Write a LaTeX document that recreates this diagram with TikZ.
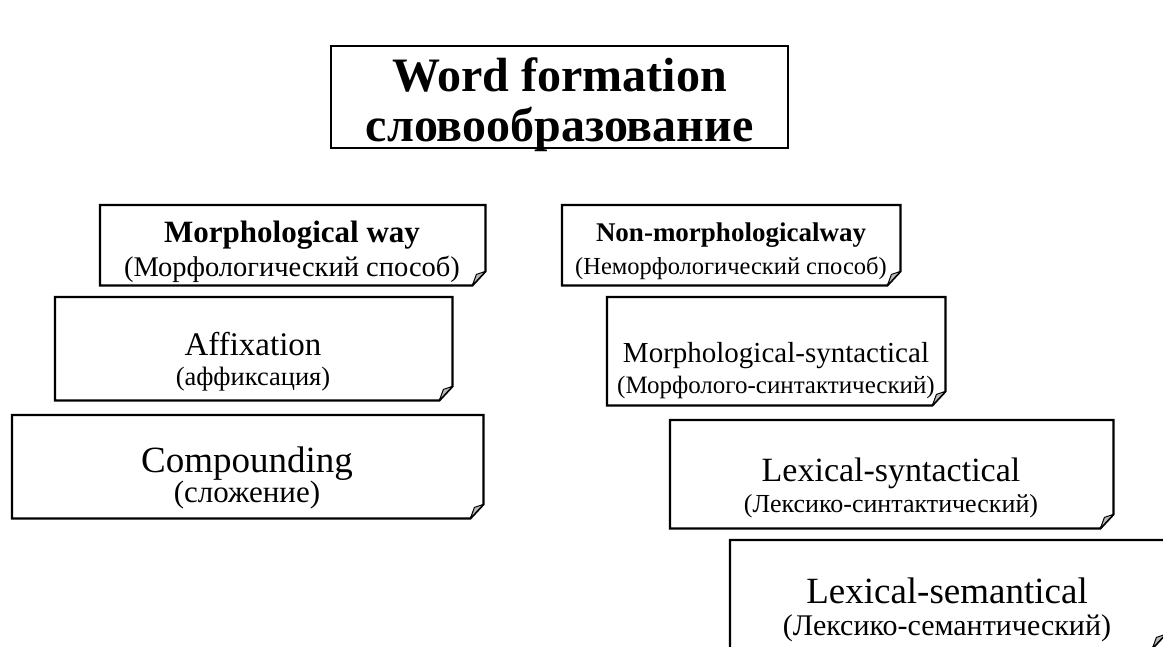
\documentclass[tikz,border=0pt]{standalone}
\usepackage{fontspec}
\setmainfont{Liberation Serif}
\newcommand\foldbox[1]{%
  \draw[boxline] (#1.north west) -- (#1.north east) -- ([yshift=14pt]#1.south east)
    -- ([xshift=-13pt]#1.south east) -- (#1.south west) -- cycle;
  \filldraw[fill=gray!55,draw=black,line width=1pt,line join=round]
    ([yshift=14pt]#1.south east) -- ([xshift=-13pt]#1.south east)
    -- ([xshift=-9pt,yshift=11pt]#1.south east) -- cycle;}
\newcommand\fs[1]{\fontsize{#1}{#1}\selectfont}
\begin{document}
\begin{tikzpicture}[x=1pt,y=-1pt,
  boxline/.style={line width=2.2pt,line join=miter},
  box/.style={rectangle,inner sep=0pt,anchor=north west},
  ln/.style={inner sep=0pt,anchor=base}]
\useasboundingbox (0,0) rectangle (1163,646);
\clip (0,0) rectangle (1163,646);
% top box
\node[box,draw,line width=2.2pt,minimum width=457pt,minimum height=102pt] (top) at (330,45) {};
\node[align=center,inner sep=0pt,font=\fontsize{48}{50}\selectfont\bfseries] (topt) at ([yshift=-8pt]top.center) {Word formation\\словообразование};
% boxes
\node[box,minimum width=385pt,minimum height=80pt] (morph) at (100,205) {};
\node[box,minimum width=338pt,minimum height=80pt] (nonmorph) at (562,205) {};
\node[box,minimum width=397pt,minimum height=103pt] (affix) at (55,297) {};
\node[box,minimum width=471pt,minimum height=103pt] (comp) at (12,415) {};
\node[box,minimum width=338pt,minimum height=108pt] (msynt) at (607,297) {};
\node[box,minimum width=443pt,minimum height=108pt] (lsynt) at (670,420) {};
\node[box,minimum width=435pt,minimum height=108pt] (lsem) at (730,540) {};
\foldbox{morph}\foldbox{nonmorph}\foldbox{affix}\foldbox{comp}
\foldbox{msynt}\foldbox{lsynt}\foldbox{lsem}
% texts
\node[ln,font=\fs{31}\bfseries] (morphA) at (292,242) {Morphological way};
\node[ln,font=\fs{28.5}]        (morphB) at (292,276) {(Морфологический способ)};
\node[ln,font=\fs{27}\bfseries] (nonmorphA) at (731,241) {Non-morphologicalway};
\node[ln,font=\fs{24.5}]        (nonmorphB) at (731,274) {(Неморфологический способ)};
\node[ln,font=\fs{33}] (affixA) at (253,355) {Affixation};
\node[ln,font=\fs{26.5}] (affixB) at (253,385) {(аффиксация)};
\node[ln,font=\fs{37}] (compA) at (247,472) {Compounding};
\node[ln,font=\fs{31}] (compB) at (247,502) {(сложение)};
\node[ln,font=\fs{29}] (msyntA) at (776,362) {Morphological-syntactical};
\node[ln,font=\fs{25}] (msyntB) at (776,393) {(Морфолого-синтактический)};
\node[ln,font=\fs{34}] (lsyntA) at (891,481) {Lexical-syntactical};
\node[ln,font=\fs{26}] (lsyntB) at (891,512) {(Лексико-синтактический)};
\node[ln,font=\fs{37}] (lsemA) at (947,603) {Lexical-semantical};
\node[ln,font=\fs{30}] (lsemB) at (947,635) {(Лексико-семантический)};
\end{tikzpicture}
\end{document}
